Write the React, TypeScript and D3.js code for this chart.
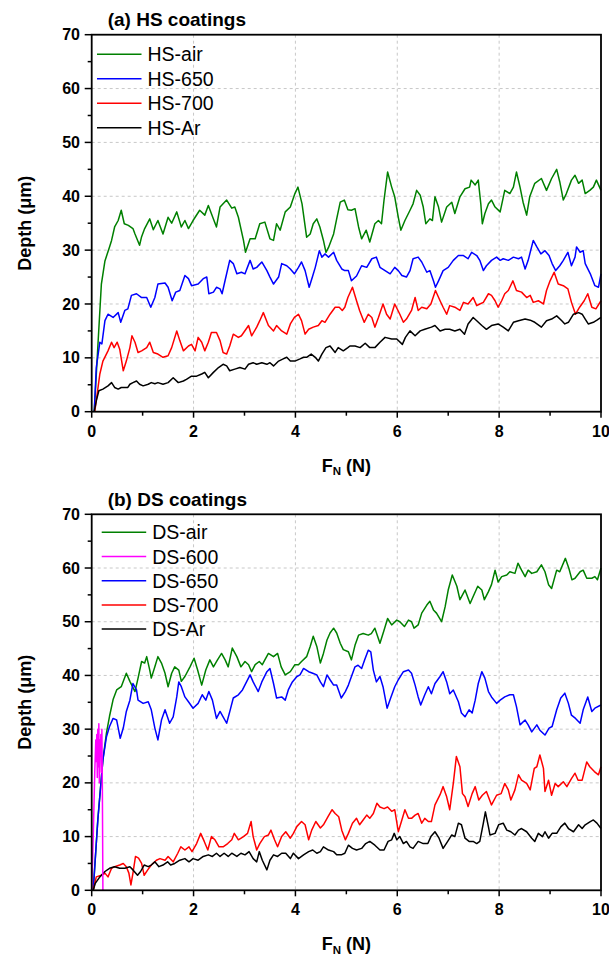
import React from 'react';
import * as d3 from 'd3';

type Pt = [number, number];

const HS_AIR: Pt[] = [[0.05,0],[0.12,12],[0.19,23.7],[0.26,28],[0.35,30.6],[0.39,31.8],[0.45,34.3],[0.52,35.5],[0.58,37.4],[0.64,34.9],[0.72,34.6],[0.81,34],[0.85,33],[0.94,30.9],[0.98,32.5],[1.04,34],[1.14,35.8],[1.21,33.8],[1.3,35.5],[1.4,33],[1.5,36.1],[1.57,35],[1.67,37.1],[1.76,34.3],[1.83,35.5],[1.9,34],[1.99,35.5],[2.12,37.4],[2.22,36.5],[2.29,38.3],[2.39,35.8],[2.45,34.3],[2.52,38],[2.65,39.3],[2.75,37.8],[2.81,38],[2.88,36.1],[2.98,31.8],[3.02,29.6],[3.11,32.1],[3.21,32.1],[3.3,34.9],[3.4,35.2],[3.5,32.1],[3.57,31.8],[3.63,34.9],[3.7,33.7],[3.8,37.1],[3.9,38],[3.99,40.5],[4.05,41.7],[4.13,38.6],[4.22,32.4],[4.29,33],[4.35,34.9],[4.42,35.8],[4.48,34.3],[4.55,31.8],[4.6,29.6],[4.65,30.5],[4.75,33],[4.81,35.8],[4.88,38.9],[4.96,39.3],[5.03,37.5],[5.1,37.4],[5.17,37.7],[5.24,34.3],[5.3,32.1],[5.39,33.7],[5.46,31.5],[5.56,34.9],[5.63,35.5],[5.69,34.9],[5.74,39.3],[5.81,44.5],[5.89,41.7],[5.95,39.9],[6.02,36.1],[6.07,33.7],[6.15,35.5],[6.25,37.4],[6.31,38.6],[6.38,41.1],[6.45,40.2],[6.51,38],[6.56,34.9],[6.64,35.8],[6.69,35.5],[6.74,39.9],[6.81,38],[6.87,35.2],[6.97,38],[7.07,38.9],[7.13,36.8],[7.23,39.9],[7.33,41.4],[7.42,41.7],[7.45,43],[7.53,42.1],[7.59,43],[7.64,38.6],[7.67,34.9],[7.72,36.8],[7.79,38.6],[7.85,39.3],[7.92,38],[8.02,37.1],[8.11,41.1],[8.21,40.5],[8.28,41.7],[8.34,44.5],[8.41,41.7],[8.47,38.9],[8.54,36.5],[8.6,39.9],[8.7,42.4],[8.83,43.3],[8.93,41.1],[9.03,43.3],[9.13,45],[9.19,42.7],[9.26,39.3],[9.32,40.5],[9.42,43],[9.49,43.9],[9.56,42.4],[9.63,43],[9.69,40.5],[9.78,41.1],[9.85,41.7],[9.91,43],[10,41.1]];

const HS_650: Pt[] = [[0.05,0],[0.09,8.2],[0.16,12.9],[0.2,12.6],[0.26,16.9],[0.32,18.1],[0.42,17.5],[0.52,18.4],[0.57,16.6],[0.65,18.8],[0.71,19.1],[0.78,21.6],[0.88,21.9],[0.98,21.2],[1.08,21.2],[1.16,19.4],[1.24,21.2],[1.3,23.7],[1.44,23.9],[1.5,23.1],[1.58,20.6],[1.65,22.2],[1.73,22.5],[1.83,25.3],[1.9,24.7],[1.96,23.4],[2.09,23.7],[2.19,24.7],[2.26,25],[2.3,21.9],[2.39,22.2],[2.45,23.1],[2.52,22.8],[2.56,21.9],[2.62,24.4],[2.71,28.1],[2.78,27.5],[2.85,25.6],[2.94,25.9],[3.01,25.6],[3.11,28.1],[3.17,26.5],[3.24,26.8],[3.34,27.8],[3.44,26.2],[3.5,25],[3.57,23.7],[3.67,25],[3.73,27.5],[3.83,27.1],[3.9,26.5],[3.98,25.6],[4.06,26.8],[4.12,27.8],[4.19,26.2],[4.27,23.1],[4.33,24.9],[4.39,26.8],[4.47,29.9],[4.52,28.7],[4.58,29.3],[4.65,28.7],[4.75,29.6],[4.81,28.1],[4.91,26.5],[4.97,26.2],[5.04,26.2],[5.1,24.3],[5.2,25.2],[5.3,27.1],[5.4,26.8],[5.5,28.4],[5.59,28.7],[5.66,26.8],[5.76,26.2],[5.86,25.6],[5.95,26.8],[6.02,26.2],[6.09,25.3],[6.18,25],[6.25,26.2],[6.31,28.4],[6.41,28.7],[6.48,27.8],[6.58,25.9],[6.64,26.2],[6.71,24.3],[6.75,23.1],[6.81,24.3],[6.9,26.2],[7,26.8],[7.1,28.1],[7.2,29],[7.3,29],[7.39,28.4],[7.46,29.6],[7.56,29],[7.62,28.1],[7.69,26.2],[7.75,27.1],[7.85,28.1],[7.95,28.7],[8.02,28.1],[8.08,28.4],[8.18,28.1],[8.28,28.7],[8.38,28.4],[8.44,28.7],[8.51,26.5],[8.57,28.1],[8.67,31.8],[8.74,30.6],[8.82,29.3],[8.9,29.9],[8.98,29],[9.04,27.5],[9.11,26.2],[9.19,27.1],[9.26,28.1],[9.35,29.6],[9.42,27.1],[9.49,28.7],[9.52,30.6],[9.59,29.6],[9.65,29.9],[9.69,27.5],[9.79,25.6],[9.88,23.4],[9.95,23.1],[10,25.6]];

const HS_700: Pt[] = [[0.06,0],[0.16,7],[0.22,9.4],[0.32,11.3],[0.39,12.9],[0.44,11.9],[0.5,12.9],[0.55,11.6],[0.62,7.6],[0.68,9.4],[0.75,11.9],[0.79,14.1],[0.85,12.9],[0.91,11],[0.98,11.3],[1.08,11.9],[1.14,12.9],[1.21,11],[1.3,10.7],[1.4,10.1],[1.5,10.4],[1.57,11.9],[1.67,15],[1.73,13.2],[1.8,11.3],[1.9,12.2],[1.96,12.5],[2.03,11.3],[2.09,13.8],[2.16,12.9],[2.22,11.3],[2.29,12.9],[2.35,14.7],[2.45,14.7],[2.52,13.2],[2.58,11],[2.65,10.7],[2.71,12.2],[2.78,14.4],[2.88,13.8],[2.94,14.1],[3.08,16],[3.14,14.1],[3.24,15.7],[3.3,16.9],[3.37,18.4],[3.47,16],[3.57,15],[3.63,16],[3.73,15],[3.83,14.4],[3.9,16.3],[3.98,17.5],[4.06,18.1],[4.12,16.9],[4.19,14.4],[4.26,15.3],[4.35,15.7],[4.45,16],[4.52,16.9],[4.58,16.6],[4.68,18.1],[4.78,19.4],[4.86,19.4],[4.92,18.8],[4.97,19.4],[5.03,21.2],[5.12,23.1],[5.2,20.6],[5.26,18.8],[5.35,16.6],[5.43,18.1],[5.5,17.5],[5.56,15.7],[5.63,17.5],[5.72,20],[5.79,18.1],[5.86,17.2],[5.95,20],[6.05,18.1],[6.12,16.6],[6.18,17.2],[6.28,18.8],[6.35,21.2],[6.41,18.8],[6.48,19.4],[6.58,19.1],[6.66,20],[6.75,22.5],[6.84,20.6],[6.9,19.4],[6.97,18.1],[7.03,19.7],[7.13,19.4],[7.23,18.8],[7.3,20.3],[7.39,20],[7.49,21.2],[7.56,19.7],[7.62,20],[7.69,20.3],[7.79,21.9],[7.85,21.6],[7.92,20.6],[7.98,19.4],[8.05,20.6],[8.11,21.9],[8.18,22.5],[8.27,24.3],[8.34,22.5],[8.44,22.2],[8.54,21.2],[8.61,21.6],[8.67,20.3],[8.77,20.6],[8.87,20],[8.93,22.5],[9,24.3],[9.08,25.9],[9.16,23.7],[9.26,23.4],[9.35,22.8],[9.42,20.3],[9.5,18.1],[9.58,19.4],[9.67,20.6],[9.74,21.9],[9.82,19.4],[9.9,19.1],[10,20.6]];

const HS_AR: Pt[] = [[0.05,0],[0.09,2],[0.14,3.9],[0.22,4.2],[0.32,4.8],[0.39,5.4],[0.45,4.5],[0.52,4.2],[0.58,4.5],[0.65,4.5],[0.71,4.5],[0.75,5.1],[0.81,5.4],[0.88,5.7],[0.94,5.1],[1.01,4.8],[1.11,5.1],[1.17,5.4],[1.24,5.2],[1.3,5.4],[1.4,5.1],[1.5,5.4],[1.6,6.3],[1.7,5.4],[1.8,5.7],[1.86,6],[1.96,6.6],[2.06,6.6],[2.16,7],[2.22,7.3],[2.29,6.3],[2.39,7.3],[2.49,8.2],[2.58,8.8],[2.65,8.5],[2.71,7.6],[2.81,7.9],[2.91,8.2],[3.01,7.9],[3.08,8.8],[3.17,9.1],[3.24,8.8],[3.34,9.1],[3.44,8.8],[3.5,9.1],[3.57,8.5],[3.67,9.4],[3.76,9.8],[3.83,10.1],[3.9,9.4],[3.99,9.4],[4.09,9.8],[4.16,10.1],[4.22,10.1],[4.31,10.7],[4.39,10.1],[4.45,9.4],[4.52,10.7],[4.6,11.9],[4.68,12.2],[4.78,11],[4.84,11.9],[4.94,11.3],[5.03,11.9],[5.07,12.2],[5.17,12.2],[5.27,11.9],[5.37,12.7],[5.46,11.9],[5.56,11.9],[5.66,12.9],[5.76,13.8],[5.89,13.5],[5.99,13.5],[6.1,12.5],[6.16,13.8],[6.25,15],[6.35,14.1],[6.45,15],[6.54,15.3],[6.67,15.7],[6.74,16],[6.84,15],[6.94,15.3],[7.03,15.3],[7.13,15],[7.23,15.3],[7.32,14.4],[7.39,16.3],[7.49,17.5],[7.56,16.9],[7.66,16],[7.75,15.3],[7.85,16],[7.98,16.3],[8.08,15.7],[8.18,15],[8.28,16.6],[8.38,16.9],[8.51,17.2],[8.61,17],[8.7,16.6],[8.83,15.7],[8.93,16.9],[9.03,17.2],[9.13,17.8],[9.23,16.9],[9.29,16.3],[9.36,16.6],[9.46,18.1],[9.56,18.4],[9.63,18.1],[9.69,17.2],[9.75,16.3],[9.85,16.6],[9.92,17],[10,17.5]];

const DS_AIR: Pt[] = [[0.03,0],[0.12,13.1],[0.22,24.3],[0.29,29.3],[0.35,32.4],[0.42,35.5],[0.49,37.3],[0.58,37.9],[0.68,40.4],[0.75,38.9],[0.85,37],[0.91,39.5],[0.98,42.6],[1.04,42.3],[1.08,43.5],[1.14,41],[1.17,39.5],[1.24,41.6],[1.3,43.5],[1.37,42.3],[1.44,40.4],[1.5,37.9],[1.57,40.4],[1.63,41.6],[1.71,41],[1.76,38.9],[1.83,39.8],[1.93,41.6],[2.01,43.2],[2.08,41],[2.16,38.2],[2.24,41],[2.32,42.9],[2.39,41.6],[2.47,42.9],[2.55,44.1],[2.62,42.9],[2.68,41.6],[2.76,45.1],[2.85,43.5],[2.93,41.6],[3.01,42.6],[3.08,42],[3.14,40.7],[3.21,42],[3.29,42.6],[3.35,42],[3.4,42.9],[3.47,44.1],[3.57,43.5],[3.65,44.1],[3.72,41.6],[3.8,40.1],[3.9,40.7],[3.99,42],[4.06,42],[4.12,42.6],[4.22,43.5],[4.29,45.4],[4.35,47.3],[4.42,45.4],[4.49,42.3],[4.55,44.1],[4.62,46.6],[4.68,47.9],[4.75,48.8],[4.81,47.9],[4.88,46],[4.94,44.8],[5.04,44.4],[5.1,42.9],[5.17,45.6],[5.24,47.5],[5.33,47.8],[5.43,47.5],[5.49,47.8],[5.56,48.8],[5.66,46],[5.74,48.4],[5.81,50.6],[5.89,49.4],[5.99,50.3],[6.05,50],[6.14,49.1],[6.22,50.3],[6.28,50],[6.33,48.8],[6.41,49.4],[6.48,51.6],[6.58,53.1],[6.64,53.8],[6.71,52.2],[6.77,51.6],[6.87,50],[6.94,52.8],[7,55.9],[7.08,58.7],[7.17,56.6],[7.23,54.1],[7.33,55.9],[7.43,53.4],[7.49,54.7],[7.58,56.6],[7.66,55.9],[7.71,54.1],[7.79,55.6],[7.85,56.9],[7.92,59.6],[7.98,57.4],[8.05,58.4],[8.15,58.7],[8.21,59.3],[8.31,59],[8.37,60.9],[8.44,59.6],[8.51,58.4],[8.57,59.6],[8.64,59],[8.74,59.3],[8.83,60.6],[8.9,59.3],[8.97,56.9],[9.03,56.2],[9.13,59.6],[9.19,59.3],[9.3,61.8],[9.37,59.9],[9.43,57.8],[9.49,58.1],[9.59,59.3],[9.65,59.6],[9.72,58.1],[9.82,58.1],[9.88,58.4],[9.93,57.8],[10,60]];

const DS_600: Pt[] = [[0,0],[0.03,10],[0.06,22],[0.08,28],[0.09,24],[0.1,29],[0.11,21],[0.12,30],[0.13,23],[0.14,31],[0.15,20],[0.16,28],[0.17,25],[0.18,29],[0.19,22],[0.2,30],[0.21,18],[0.22,0]];

const DS_650: Pt[] = [[0.03,0],[0.12,13.1],[0.22,24.3],[0.29,28.6],[0.35,30.5],[0.42,32],[0.49,31.7],[0.56,28.3],[0.62,30.2],[0.68,33.3],[0.75,35.4],[0.81,38.5],[0.88,37.3],[0.91,35.4],[1.01,34.8],[1.11,35.1],[1.17,33.6],[1.24,30.2],[1.3,28],[1.37,31.7],[1.44,33.6],[1.53,31.1],[1.6,32.3],[1.67,36],[1.71,38.8],[1.76,37.9],[1.83,36],[1.9,35.1],[1.99,33.9],[2.09,34.8],[2.17,36.4],[2.24,35.4],[2.3,37],[2.37,35.4],[2.45,32],[2.52,33.3],[2.58,32.3],[2.65,31.1],[2.72,33.6],[2.78,35.8],[2.88,36.4],[2.96,37.3],[3.04,38.8],[3.11,40.1],[3.17,38.8],[3.27,37],[3.34,38.8],[3.44,40.7],[3.5,41.3],[3.57,38.5],[3.63,35.8],[3.73,36],[3.8,35.4],[3.86,37.3],[3.94,38.8],[4.03,39.8],[4.09,40.1],[4.16,41.3],[4.26,40.7],[4.34,40.4],[4.42,40.1],[4.49,38.8],[4.55,37.9],[4.62,40.1],[4.68,39.2],[4.75,38.2],[4.81,38.2],[4.9,35.8],[4.98,37],[5.04,38.2],[5.1,39.8],[5.17,41.6],[5.23,41.9],[5.3,41.3],[5.36,42.9],[5.43,44.7],[5.48,44.4],[5.53,41],[5.59,38.8],[5.66,39.8],[5.72,37.9],[5.8,33.9],[5.87,35.8],[5.95,37.9],[6.02,39.2],[6.12,40.7],[6.22,41],[6.28,40.4],[6.35,38.2],[6.41,36],[6.46,34.5],[6.54,36.4],[6.61,37.9],[6.67,36.6],[6.74,38.5],[6.84,39.8],[6.9,40.7],[6.97,38.8],[7.03,36.6],[7.1,37.3],[7.2,35.1],[7.26,33],[7.33,32.3],[7.41,33.6],[7.47,33],[7.53,35.4],[7.59,38.5],[7.66,40.7],[7.72,39.5],[7.79,37],[7.85,36],[7.95,34.8],[8.02,35.4],[8.11,36],[8.21,36.4],[8.28,36.4],[8.34,34.2],[8.41,30.8],[8.51,31.7],[8.57,30.8],[8.64,29.5],[8.74,30.8],[8.8,29.8],[8.9,28.9],[8.98,30.2],[9.04,30.5],[9.13,33.6],[9.21,35.8],[9.29,36.7],[9.36,34.8],[9.42,32.6],[9.5,32],[9.59,31.1],[9.65,33.6],[9.74,36],[9.82,33.3],[9.88,33.9],[10,34.5]];

const DS_700: Pt[] = [[0.03,0],[0.09,2.5],[0.19,2.8],[0.26,3.2],[0.32,2.5],[0.39,4.1],[0.45,4.4],[0.55,4.7],[0.62,5],[0.68,4.4],[0.73,3.2],[0.77,1],[0.81,3.2],[0.86,6.3],[0.92,6],[0.98,5],[1.03,2.8],[1.1,3.8],[1.17,4.7],[1.27,5.6],[1.34,5.9],[1.44,5.6],[1.5,6.3],[1.6,5.3],[1.69,6.9],[1.75,8.1],[1.83,7.5],[1.91,8.1],[1.97,7.2],[2.06,8.7],[2.14,10.6],[2.21,9.1],[2.28,7.5],[2.35,10],[2.42,9.4],[2.5,8.1],[2.58,8.1],[2.67,8.7],[2.75,9.4],[2.8,10.6],[2.88,9.4],[2.98,10],[3.06,10.6],[3.13,12.8],[3.17,10],[3.24,7.5],[3.3,8.7],[3.39,10],[3.47,10.3],[3.52,11.2],[3.59,9.4],[3.65,8.1],[3.73,10],[3.81,10.9],[3.9,9.7],[3.96,10.6],[4.03,11.9],[4.12,12.8],[4.19,12.2],[4.26,9.4],[4.32,11.2],[4.4,12.8],[4.49,11.6],[4.55,12.2],[4.64,13.7],[4.72,15],[4.78,14.3],[4.85,13.7],[4.91,11.2],[4.98,9.4],[5.04,10.6],[5.12,12.5],[5.2,13.4],[5.26,12.2],[5.33,13.1],[5.4,14],[5.46,13.4],[5.53,14.3],[5.6,16.2],[5.66,15.5],[5.74,15.2],[5.81,15.5],[5.89,14.7],[5.95,15],[6.02,10.9],[6.09,13.1],[6.15,15],[6.22,13.4],[6.28,13.4],[6.35,14],[6.41,14.3],[6.48,12.5],[6.54,13.4],[6.61,12.8],[6.67,12.8],[6.74,15.9],[6.84,17.8],[6.9,19.3],[6.97,17.4],[7.03,15],[7.1,19.9],[7.16,24.9],[7.23,23],[7.28,18],[7.33,17.4],[7.39,15.6],[7.47,18],[7.53,19.3],[7.6,16.8],[7.67,17.7],[7.75,18.4],[7.85,15.9],[7.95,17.7],[8.04,18],[8.11,19.9],[8.18,18.7],[8.23,16.8],[8.31,18.7],[8.38,21.5],[8.44,20.5],[8.54,19.9],[8.61,18.7],[8.69,22.7],[8.74,23],[8.8,25.2],[8.87,22.7],[8.9,18.4],[8.97,20.5],[9.03,17.7],[9.1,19.9],[9.16,19.3],[9.26,20.2],[9.33,19.3],[9.42,20.8],[9.49,21.8],[9.55,20.5],[9.63,20.5],[9.72,23.9],[9.78,23],[9.87,22.1],[9.95,21.5],[10,23]];

const DS_AR: Pt[] = [[0.03,0],[0.07,1.3],[0.16,2.5],[0.26,3.5],[0.35,4.1],[0.45,4.4],[0.55,4.1],[0.65,4.1],[0.75,4.4],[0.81,3.8],[0.9,2.8],[0.96,3.5],[1.03,4.7],[1.11,4.4],[1.17,4.7],[1.24,5.3],[1.32,4.4],[1.4,4.7],[1.49,5.3],[1.55,4.7],[1.63,5],[1.73,5.6],[1.83,5.9],[1.91,5.3],[1.99,5.9],[2.09,5.6],[2.19,6.3],[2.29,6.6],[2.37,6.3],[2.45,6.9],[2.52,6.3],[2.6,6.9],[2.68,6.3],[2.75,6.9],[2.85,6.3],[2.93,6.9],[3.01,6.6],[3.09,7.2],[3.17,5.9],[3.24,5.3],[3.29,7.2],[3.35,5.6],[3.44,3.8],[3.5,5.6],[3.57,6.6],[3.65,6.3],[3.73,6.9],[3.81,6.9],[3.9,5.9],[3.96,6.9],[4.06,5.9],[4.16,6.6],[4.26,7.2],[4.34,7.5],[4.42,6.9],[4.49,7.2],[4.55,8.1],[4.65,7.5],[4.75,7.2],[4.81,6.6],[4.9,6.6],[4.97,6.9],[5.04,8.4],[5.12,7.8],[5.2,7.5],[5.3,7.8],[5.38,8.7],[5.46,9.1],[5.56,8.4],[5.66,7.5],[5.74,7.5],[5.82,9.1],[5.89,9.4],[5.94,10.6],[5.99,9.4],[6.05,10],[6.12,8.7],[6.18,9.1],[6.25,8.1],[6.31,7.8],[6.41,9.1],[6.51,8.7],[6.6,8.7],[6.66,10],[6.74,10.9],[6.82,9.7],[6.9,7.8],[6.99,9.1],[7.07,10.3],[7.13,10],[7.2,12.5],[7.26,12.2],[7.33,9.7],[7.41,9.1],[7.49,9.1],[7.56,8.7],[7.62,9.1],[7.69,12.5],[7.73,14.6],[7.79,11.8],[7.82,10.3],[7.92,10.6],[7.99,12.2],[8.08,12.5],[8.15,11.2],[8.23,10.9],[8.31,10.3],[8.38,11.2],[8.44,11.5],[8.54,10.9],[8.64,9.7],[8.7,9.1],[8.77,10.6],[8.85,10],[8.9,10.9],[8.97,9.7],[9.04,10.6],[9.13,10.6],[9.21,11.8],[9.29,12.5],[9.36,11.5],[9.46,10.9],[9.56,12.2],[9.63,11.5],[9.69,12.2],[9.79,12.8],[9.85,13.1],[9.92,12.5],[10,11.5]];

const HS_NAMES = ['HS-air', 'HS-650', 'HS-700', 'HS-Ar'];
const DS_NAMES = ['DS-air', 'DS-600', 'DS-650', 'DS-700', 'DS-Ar'];
const X_TICKS = [0, 2, 4, 6, 8, 10];
const X_MINOR = [1, 3, 5, 7, 9];
const Y_TICKS = [0, 10, 20, 30, 40, 50, 60, 70];
const Y_MINOR = [5, 15, 25, 35, 45, 55, 65];

const GREEN = '#008000';
const BLUE = '#0000ff';
const RED = '#ff0000';
const MAGENTA = '#ff00ff';
const BLACK = '#000000';

const FONT = '"Liberation Sans", Arial, Helvetica, sans-serif';

interface Series { name: string; data: Pt[]; color: string; }

interface PanelProps {
  title: string;
  series: Series[];
  drawOrder: number[];
  top: number;
  bottom: number;
  legendX: number;
  legendY: number;
  legendStep: number;
}

function Panel({ title, series, drawOrder, top, bottom, legendX, legendY, legendStep }: PanelProps) {
  const left = 91.7;
  const right = 601;
  const x = d3.scaleLinear().domain([0, 10]).range([left, right]);
  const y = d3.scaleLinear().domain([0, 70]).range([bottom, top]);
  const line = d3.line<Pt>().x(d => x(d[0])).y(d => y(d[1]));
  const midY = (top + bottom) / 2;
  const midX = (left + right) / 2;
  return (
    <g>
      {/* grid */}
      {X_TICKS.filter(t => t > 0 && t < 10).map(t => (
        <line key={'gx' + t} x1={x(t)} x2={x(t)} y1={top} y2={bottom} stroke="#c8c8c8" strokeWidth={1} strokeDasharray="3,3" />
      ))}
      {Y_TICKS.filter(t => t > 0 && t < 70).map(t => (
        <line key={'gy' + t} x1={left} x2={right} y1={y(t)} y2={y(t)} stroke="#c8c8c8" strokeWidth={1} strokeDasharray="3,3" />
      ))}
      {/* series */}
      {drawOrder.map(i => (
        <path key={series[i].name} d={line(series[i].data) || ''} fill="none" stroke={series[i].color} strokeWidth={1.5} strokeLinejoin="round" />
      ))}
      {/* frame */}
      <rect x={left} y={top} width={right - left} height={bottom - top} fill="none" stroke="#000" strokeWidth={1.8} />
      {/* x ticks */}
      {X_TICKS.map(t => (
        <g key={'xt' + t}>
          <line x1={x(t)} x2={x(t)} y1={bottom} y2={bottom + 6} stroke="#000" strokeWidth={1.5} />
          <text x={x(t)} y={bottom + 25} textAnchor="middle" fontFamily={FONT} fontWeight="bold" fontSize={16}>{t}</text>
        </g>
      ))}
      {X_MINOR.map(t => (
        <line key={'xm' + t} x1={x(t)} x2={x(t)} y1={bottom} y2={bottom + 4} stroke="#000" strokeWidth={1.5} />
      ))}
      {/* y ticks */}
      {Y_TICKS.map(t => (
        <g key={'yt' + t}>
          <line x1={left - 7} x2={left} y1={y(t)} y2={y(t)} stroke="#000" strokeWidth={1.5} />
          <text x={80} y={y(t)} dy="0.35em" textAnchor="end" fontFamily={FONT} fontWeight="bold" fontSize={16}>{t}</text>
        </g>
      ))}
      {Y_MINOR.map(t => (
        <line key={'ym' + t} x1={left - 4} x2={left} y1={y(t)} y2={y(t)} stroke="#000" strokeWidth={1.5} />
      ))}
      {/* axis titles */}
      <text x={midX} y={bottom + 60} textAnchor="middle" fontFamily={FONT} fontWeight="bold" fontSize={18}>
        F<tspan fontSize={11.5} dy={3.5}>N</tspan><tspan dy={-3.5}> (N)</tspan>
      </text>
      <text transform={`translate(31,${midY}) rotate(-90)`} textAnchor="middle" fontFamily={FONT} fontWeight="bold" fontSize={18}>
        Depth (μm)
      </text>
      {/* title */}
      <text x={107.7} y={top - 8.5} fontFamily={FONT} fontWeight="bold" fontSize={19}>{title}</text>
      {/* legend */}
      {series.map((s, i) => (
        <g key={'lg' + s.name}>
          <line x1={legendX} x2={legendX + 44.5} y1={legendY + i * legendStep} y2={legendY + i * legendStep} stroke={s.color} strokeWidth={1.5} />
          <text x={legendX + 50.5} y={legendY + i * legendStep} dy="0.36em" fontFamily={FONT} fontSize={19.5}>{s.name}</text>
        </g>
      ))}
    </g>
  );
}

export default function App() {
  const hs: Series[] = [
    { name: HS_NAMES[0], data: HS_AIR, color: GREEN },
    { name: HS_NAMES[1], data: HS_650, color: BLUE },
    { name: HS_NAMES[2], data: HS_700, color: RED },
    { name: HS_NAMES[3], data: HS_AR, color: BLACK },
  ];
  const ds: Series[] = [
    { name: DS_NAMES[0], data: DS_AIR, color: GREEN },
    { name: DS_NAMES[1], data: DS_600, color: MAGENTA },
    { name: DS_NAMES[2], data: DS_650, color: BLUE },
    { name: DS_NAMES[3], data: DS_700, color: RED },
    { name: DS_NAMES[4], data: DS_AR, color: BLACK },
  ];
  return (
    <svg width={609} height={955} style={{ position: 'absolute', left: 0, top: 0, background: '#fff' }}>
      <rect x={0} y={0} width={609} height={955} fill="#fff" />
      <Panel title="(a) HS coatings" series={hs} drawOrder={[0, 1, 2, 3]} top={34.7} bottom={411.7} legendX={97} legendY={54.3} legendStep={24.5} />
      <Panel title="(b) DS coatings" series={ds} drawOrder={[0, 2, 3, 4, 1]} top={514.3} bottom={890.3} legendX={101.7} legendY={532.3} legendStep={24.2} />
    </svg>
  );
}
